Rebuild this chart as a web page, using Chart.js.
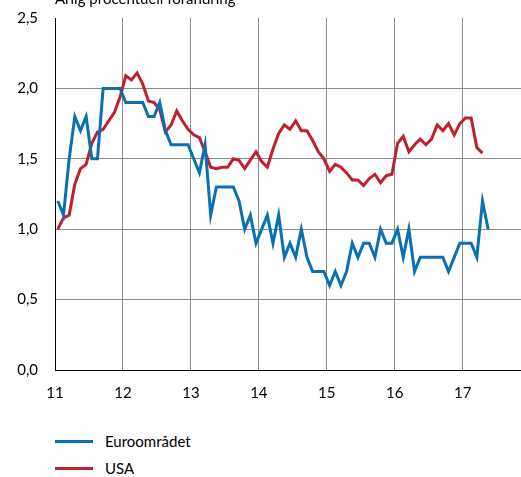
<!DOCTYPE html>
<html lang="sv">
<head>
  <meta charset="UTF-8">
  <title>Euroområdet och USA</title>
  <script src="https://cdn.jsdelivr.net/npm/chart.js"></script>
  <style>
    body { margin: 0; background: #fff; font-family: Lato, sans-serif; overflow: hidden; }
    #wrap { position: relative; width: 521px; height: 477px; overflow: hidden; }
    #unit { position: absolute; left: 55px; top: -11px; font-size: 15px; color: #000; white-space: nowrap; z-index: 2; }
    #chart { position: absolute; left: 0; top: -8px; }
    .leg { position: absolute; left: 55px; font-size: 15px; color: #000; display: flex; align-items: center; }
    .leg span.swatch { display: inline-block; width: 38px; height: 3px; margin-right: 12px; }
  </style>
</head>
<body>
  <div id="wrap">
    <canvas id="chart" width="521" height="418"></canvas>
    <div id="unit">Årlig procentuell förändring</div>
    <div id="legend"></div>
  </div>

  <script>
    // månadsdata jan 2011 - maj 2017
    const seriesNames = ["Euroområdet", "USA"];
    const yearLabels = ["11", "12", "13", "14", "15", "16", "17"];

    const euro = [
      1.2, 1.1, 1.5, 1.8, 1.7, 1.8, 1.5, 1.5, 2.0, 2.0, 2.0, 2.0,
      1.9, 1.9, 1.9, 1.9, 1.8, 1.8, 1.9, 1.7, 1.6, 1.6, 1.6, 1.6,
      1.5, 1.4, 1.6, 1.1, 1.3, 1.3, 1.3, 1.3, 1.2, 1.0, 1.1, 0.9,
      1.0, 1.1, 0.9, 1.1, 0.8, 0.9, 0.8, 1.0, 0.8, 0.7, 0.7, 0.7,
      0.6, 0.7, 0.6, 0.7, 0.9, 0.8, 0.9, 0.9, 0.8, 1.0, 0.9, 0.9,
      1.0, 0.8, 1.0, 0.7, 0.8, 0.8, 0.8, 0.8, 0.8, 0.7, 0.8, 0.9,
      0.9, 0.9, 0.8, 1.2, 1.0
    ];

    const usa = [
      1.00, 1.08, 1.10, 1.32, 1.43, 1.46, 1.61, 1.69, 1.71, 1.77, 1.83, 1.94,
      2.09, 2.06, 2.11, 2.03, 1.91, 1.90, 1.85, 1.69, 1.74, 1.84, 1.77, 1.71,
      1.67, 1.65, 1.55, 1.44, 1.43, 1.44, 1.44, 1.50, 1.49, 1.43, 1.49, 1.55,
      1.48, 1.44, 1.57, 1.68, 1.74, 1.71, 1.77, 1.70, 1.70, 1.63, 1.55, 1.50,
      1.41, 1.46, 1.44, 1.40, 1.35, 1.35, 1.31, 1.36, 1.39, 1.33, 1.38, 1.39,
      1.61, 1.66, 1.55, 1.60, 1.64, 1.60, 1.64, 1.74, 1.70, 1.75, 1.67, 1.75,
      1.79, 1.79, 1.58, 1.54
    ];

    const colors = ["#0a70b4", "#c0202e"];

    // mitt i månaden på en linjär månadsaxel
    const toPoints = arr => arr.map((v, i) => ({ x: i + 0.5, y: v }));

    const tickFont = { family: "Lato", size: 15 };

    new Chart(document.getElementById("chart"), {
      type: "line",
      data: {
        datasets: [
          { label: seriesNames[0], data: toPoints(euro), borderColor: colors[0], borderWidth: 3, pointRadius: 0, tension: 0 },
          { label: seriesNames[1], data: toPoints(usa), borderColor: colors[1], borderWidth: 3, pointRadius: 0, tension: 0 }
        ]
      },
      options: {
        responsive: false,
        animation: false,
        layout: { padding: { top: 8, right: 0, left: 0, bottom: 0 } },
        plugins: { legend: { display: false }, tooltip: { enabled: false } },
        scales: {
          x: {
            type: "linear",
            min: 0,
            max: 82.3,
            afterBuildTicks: axis => {
              axis.ticks = yearLabels.map((_, i) => ({ value: i * 12 }));
            },
            afterFit: axis => { axis.height = 40; },
            grid: { color: "#8c8c8c", lineWidth: 1, drawTicks: false },
            border: { color: "#000", width: 1 },
            ticks: {
              padding: 14,
              color: "#000",
              font: tickFont,
              maxRotation: 0,
              callback: v => yearLabels[Math.round(v / 12)]
            }
          },
          y: {
            min: 0,
            max: 2.5,
            afterFit: axis => { axis.width = 55; },
            grid: {
              color: ctx => (ctx.tick && ctx.tick.value >= 2.5 ? "rgba(0,0,0,0)" : "#8c8c8c"),
              lineWidth: 1,
              drawTicks: false
            },
            border: { color: "#000", width: 1 },
            ticks: {
              stepSize: 0.5,
              padding: 17,
              color: "#000",
              font: tickFont,
              callback: v => v.toFixed(1).replace(".", ",")
            }
          }
        }
      }
    });

    // förklaring under diagrammet
    const legend = document.getElementById("legend");
    seriesNames.forEach((name, i) => {
      const row = document.createElement("div");
      row.className = "leg";
      row.style.top = (432 + i * 27) + "px";
      row.innerHTML = '<span class="swatch" style="background:' + colors[i] + '"></span>' + name;
      legend.appendChild(row);
    });
  </script>
</body>
</html>
